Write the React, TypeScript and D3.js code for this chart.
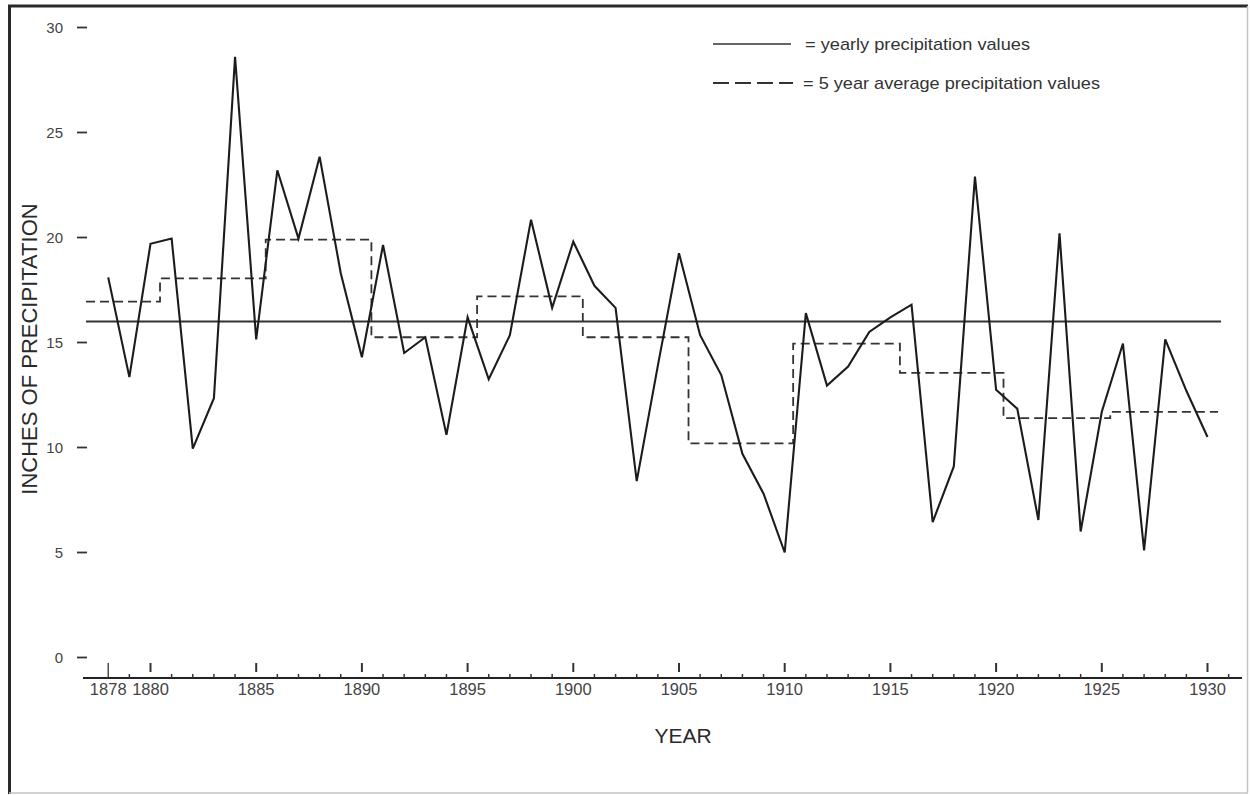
import React, { useEffect, useRef } from "react";
import * as d3 from "d3";

// yearly precipitation (inches)
const years = [
  1878, 1879, 1880, 1881, 1882, 1883, 1884, 1885, 1886, 1887, 1888, 1889, 1890,
  1891, 1892, 1893, 1894, 1895, 1896, 1897, 1898, 1899, 1900, 1901, 1902, 1903,
  1904, 1905, 1906, 1907, 1908, 1909, 1910, 1911, 1912, 1913, 1914, 1915, 1916,
  1917, 1918, 1919, 1920, 1921, 1922, 1923, 1924, 1925, 1926, 1927, 1928, 1929,
  1930,
];
const yearlyValues = [
  18.1, 13.35, 19.7, 19.95, 9.95, 12.35, 28.6, 15.15, 23.2, 19.95, 23.85, 18.3, 14.3,
  19.65, 14.5, 15.25, 10.6, 16.2, 13.25, 15.35, 20.85, 16.65, 19.8, 17.7, 16.65, 8.4,
  13.9, 19.25, 15.35, 13.45, 9.7, 7.8, 5.0, 16.4, 12.95, 13.85, 15.5, 16.2, 16.8,
  6.45, 9.1, 22.9, 12.75, 11.85, 6.55, 20.2, 6.0, 11.7, 14.95, 5.1, 15.15, 12.7,
  10.5,
];

// long-term mean line
const meanValue = 16.0;
const meanSpan = [1876.95, 1930.64];

// 5 year averages: step edges (years) and the level of each step
const avgBreaks = [
  1876.95, 1880.45, 1885.45, 1890.45, 1895.45, 1900.45, 1905.45, 1910.4, 1915.45,
  1920.35, 1925.4, 1930.5,
];
const avgValues = [16.95, 18.05, 19.9, 15.25, 17.2, 15.25, 10.2, 14.95, 13.55, 11.4, 11.7];

const yTicks = [0, 5, 10, 15, 20, 25, 30];
const xLabelYears = [1878, 1880, 1885, 1890, 1895, 1900, 1905, 1910, 1915, 1920, 1925, 1930];
const legendLabels = ["= yearly precipitation values", "= 5 year average precipitation values"];

const FONT = "'Liberation Sans', Arial, Helvetica, sans-serif";

export default function App() {
  const ref = useRef<SVGSVGElement | null>(null);

  useEffect(() => {
    const W = 1250;
    const H = 795;
    const svg = d3.select(ref.current);
    svg.selectAll("*").remove();
    svg.attr("width", W).attr("height", H);

    svg.append("rect").attr("width", W).attr("height", H).attr("fill", "#fff");

    const x = d3.scaleLinear().domain([1880, 1930]).range([150.5, 1207.5]);
    const y = d3.scaleLinear().domain([0, 30]).range([657.5, 27.5]);

    // frame of the scan
    svg.append("line").attr("x1", 8).attr("x2", 1248).attr("y1", 6).attr("y2", 6)
      .attr("stroke", "#2a2a2a").attr("stroke-width", 3);
    svg.append("line").attr("x1", 9.5).attr("x2", 9.5).attr("y1", 5).attr("y2", 794)
      .attr("stroke", "#2a2a2a").attr("stroke-width", 3);
    svg.append("line").attr("x1", 1247.5).attr("x2", 1247.5).attr("y1", 6).attr("y2", 793)
      .attr("stroke", "#c4c4c4").attr("stroke-width", 1.5);
    svg.append("line").attr("x1", 9).attr("x2", 1248).attr("y1", 793).attr("y2", 793)
      .attr("stroke", "#c4c4c4").attr("stroke-width", 1.5);

    // y axis: short dashes + numbers, no axis line
    const yAxis = svg.append("g");
    yAxis.selectAll("line").data(yTicks).enter().append("line")
      .attr("x1", 77).attr("x2", 87)
      .attr("y1", d => y(d)).attr("y2", d => y(d))
      .attr("stroke", "#333").attr("stroke-width", 1.8);
    yAxis.selectAll("text").data(yTicks).enter().append("text")
      .attr("x", 63).attr("y", d => y(d) + 5)
      .attr("text-anchor", "end")
      .attr("font-family", FONT).attr("font-size", 15).attr("fill", "#444")
      .text(d => d);

    // x axis
    const xAxis = svg.append("g");
    xAxis.append("line").attr("x1", 83).attr("x2", 1242).attr("y1", 678).attr("y2", 678)
      .attr("stroke", "#222").attr("stroke-width", 2);
    const minorYears = d3.range(1879, 1932).filter(yr => yr % 5 !== 0);
    xAxis.selectAll(".minor").data(minorYears).enter().append("line")
      .attr("class", "minor")
      .attr("x1", d => x(d)).attr("x2", d => x(d))
      .attr("y1", 674).attr("y2", 678)
      .attr("stroke", "#333").attr("stroke-width", 1.5);
    xAxis.selectAll(".major").data(xLabelYears).enter().append("line")
      .attr("class", "major")
      .attr("x1", d => x(d)).attr("x2", d => x(d))
      .attr("y1", 663).attr("y2", d => (d === 1878 ? 679 : 672))
      .attr("stroke", "#333").attr("stroke-width", d => (d === 1878 ? 1.3 : 2));
    xAxis.selectAll("text").data(xLabelYears).enter().append("text")
      .attr("x", d => x(d)).attr("y", 695)
      .attr("text-anchor", "middle")
      .attr("font-family", FONT).attr("font-size", 16.5).attr("fill", "#444")
      .text(d => d);

    // axis titles
    svg.append("text")
      .attr("transform", "translate(29,349) rotate(-90)")
      .attr("text-anchor", "middle").attr("dominant-baseline", "central")
      .attr("font-family", FONT).attr("font-size", 22).attr("fill", "#2a2a2a")
      .text("INCHES OF PRECIPITATION");
    svg.append("text")
      .attr("x", 683).attr("y", 743)
      .attr("text-anchor", "middle")
      .attr("font-family", FONT).attr("font-size", 21).attr("fill", "#2a2a2a")
      .text("YEAR");

    // mean line
    svg.append("path")
      .datum(meanSpan)
      .attr("d", d3.line<number>().x(d => x(d)).y(() => y(meanValue)))
      .attr("fill", "none").attr("stroke", "#333").attr("stroke-width", 1.8);

    // 5 year average steps
    const stepPts: [number, number][] = avgBreaks.map((b, i) => [
      b,
      avgValues[Math.min(i, avgValues.length - 1)],
    ]);
    svg.append("path")
      .datum(stepPts)
      .attr("d", d3.line<[number, number]>()
        .x(d => x(d[0])).y(d => y(d[1]))
        .curve(d3.curveStepAfter))
      .attr("fill", "none").attr("stroke", "#333")
      .attr("stroke-width", 1.8).attr("stroke-dasharray", "9,5");

    // yearly values
    const pts: [number, number][] = years.map((yr, i) => [yr, yearlyValues[i]]);
    svg.append("path")
      .datum(pts)
      .attr("d", d3.line<[number, number]>().x(d => x(d[0])).y(d => y(d[1])))
      .attr("fill", "none").attr("stroke", "#1c1c1c")
      .attr("stroke-width", 2.1).attr("stroke-linejoin", "miter");

    // legend
    const legend = svg.append("g");
    legend.append("line").attr("x1", 713).attr("x2", 791).attr("y1", 44).attr("y2", 44)
      .attr("stroke", "#666").attr("stroke-width", 2);
    legend.append("line").attr("x1", 713).attr("x2", 793).attr("y1", 83).attr("y2", 83)
      .attr("stroke", "#333").attr("stroke-width", 2).attr("stroke-dasharray", "16,6");
    legend.append("text")
      .attr("x", 805).attr("y", 50)
      .attr("font-family", FONT).attr("font-size", 17).attr("fill", "#333")
      .attr("textLength", 225).attr("lengthAdjust", "spacingAndGlyphs")
      .text(legendLabels[0]);
    legend.append("text")
      .attr("x", 803).attr("y", 89)
      .attr("font-family", FONT).attr("font-size", 17).attr("fill", "#333")
      .attr("textLength", 297).attr("lengthAdjust", "spacingAndGlyphs")
      .text(legendLabels[1]);
  }, []);

  return (
    <div style={{ position: "absolute", left: 0, top: 0 }}>
      <svg ref={ref} style={{ display: "block" }} />
    </div>
  );
}
